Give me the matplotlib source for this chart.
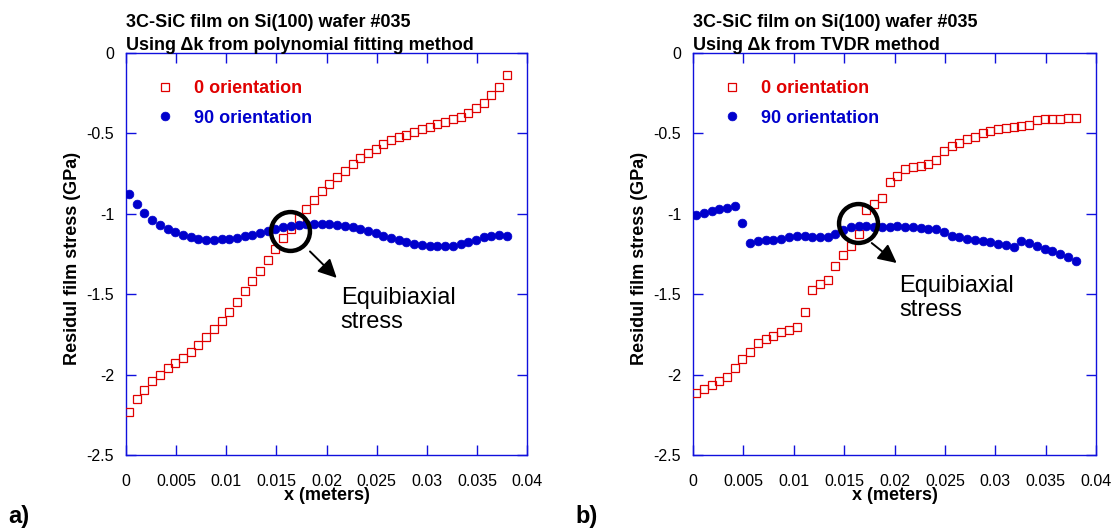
import matplotlib
matplotlib.use("Agg")
import matplotlib.pyplot as plt

plt.rcParams['font.family'] = ['Liberation Sans', 'DejaVu Sans']
plt.rcParams['axes.unicode_minus'] = False

# ---------------- data ----------------
x_m = [0.0003, 0.00107, 0.00184, 0.00261, 0.00338, 0.00415, 0.00491, 0.00568, 0.00645, 0.00722,
       0.00799, 0.00876, 0.00953, 0.0103, 0.01107, 0.01184, 0.0126, 0.01337, 0.01414, 0.01491,
       0.01568, 0.01645, 0.01722, 0.01799, 0.01876, 0.01953, 0.02029, 0.02106, 0.02183, 0.0226,
       0.02337, 0.02414, 0.02491, 0.02568, 0.02645, 0.02722, 0.02798, 0.02875, 0.02952, 0.03029,
       0.03106, 0.03183, 0.0326, 0.03337, 0.03414, 0.03491, 0.03567, 0.03644, 0.03721, 0.03798]

poly_0deg = [-2.234, -2.151, -2.093, -2.041, -2.000, -1.959, -1.928, -1.897, -1.861, -1.814,
             -1.768, -1.716, -1.665, -1.611, -1.549, -1.482, -1.416, -1.354, -1.286, -1.219,
             -1.151, -1.095, -1.027, -0.971, -0.913, -0.861, -0.816, -0.772, -0.733, -0.689,
             -0.654, -0.623, -0.594, -0.568, -0.542, -0.522, -0.507, -0.492, -0.474, -0.458,
             -0.441, -0.427, -0.412, -0.396, -0.371, -0.344, -0.309, -0.261, -0.209, -0.137]

poly_90deg = [-0.876, -0.938, -0.992, -1.037, -1.068, -1.095, -1.116, -1.130, -1.145, -1.157,
              -1.161, -1.161, -1.157, -1.155, -1.149, -1.141, -1.130, -1.120, -1.106, -1.093,
              -1.083, -1.075, -1.068, -1.064, -1.064, -1.062, -1.064, -1.068, -1.075, -1.083,
              -1.093, -1.106, -1.120, -1.135, -1.151, -1.166, -1.178, -1.188, -1.197, -1.203,
              -1.203, -1.203, -1.199, -1.188, -1.176, -1.161, -1.147, -1.137, -1.130, -1.137]

tvdr_0deg = [-2.114, -2.087, -2.066, -2.041, -2.017, -1.959, -1.903, -1.861, -1.803, -1.778,
             -1.758, -1.737, -1.720, -1.704, -1.611, -1.476, -1.437, -1.410, -1.327, -1.259,
             -1.199, -1.126, -0.979, -0.940, -0.899, -0.805, -0.768, -0.720, -0.706, -0.700,
             -0.692, -0.665, -0.609, -0.578, -0.557, -0.536, -0.520, -0.495, -0.482, -0.474,
             -0.468, -0.458, -0.453, -0.447, -0.416, -0.412, -0.408, -0.408, -0.404, -0.404]

tvdr_90deg = [-1.006, -0.992, -0.981, -0.971, -0.961, -0.950, -1.058, -1.182, -1.172, -1.166,
              -1.161, -1.155, -1.147, -1.137, -1.141, -1.145, -1.147, -1.147, -1.126, -1.099,
              -1.079, -1.073, -1.073, -1.079, -1.083, -1.079, -1.075, -1.079, -1.085, -1.089,
              -1.093, -1.095, -1.114, -1.137, -1.147, -1.155, -1.161, -1.168, -1.176, -1.188,
              -1.197, -1.209, -1.172, -1.182, -1.203, -1.217, -1.234, -1.251, -1.269, -1.292]

x_ticks = [0, 0.005, 0.01, 0.015, 0.02, 0.025, 0.03, 0.035, 0.04]
x_tick_labels = ["0", "0.005", "0.01", "0.015", "0.02", "0.025", "0.03", "0.035", "0.04"]
y_ticks = [0, -0.5, -1, -1.5, -2, -2.5]
y_tick_labels = ["0", "-0.5", "-1", "-1.5", "-2", "-2.5"]

titles = [("3C-SiC film on Si(100) wafer #035", "Using \u0394k from polynomial fitting method"),
          ("3C-SiC film on Si(100) wafer #035", "Using \u0394k from TVDR method")]
series_labels = ["0 orientation", "90 orientation"]
panel_labels = ["a)", "b)"]

# annotation anchors (circle centre, arrow start, arrow tip, text position) per panel
circle_xy = [(0.01636, -1.11), (0.0164, -1.058)]
arrow_from = [(0.01835, -1.234), (0.01774, -1.182)]
arrow_to = [(0.02102, -1.399), (0.02022, -1.306)]
text_xy = [(0.02142, -1.455), (0.02045, -1.379)]

RED = '#e00000'
BLUE = '#0000cc'
SPINE = '#1010dd'

W, H = 1115, 529
fig = plt.figure(figsize=(W / 100, H / 100), dpi=100)
axes_px = [(126, 53, 401, 402), (693, 53, 403, 402)]

datasets = [(poly_0deg, poly_90deg), (tvdr_0deg, tvdr_90deg)]

for i, (l, t, w, h) in enumerate(axes_px):
    ax = fig.add_axes([l / W, 1 - (t + h) / H, w / W, h / H])
    y0, y90 = datasets[i]
    ax.plot(x_m, y0, linestyle='none', marker='s', ms=6.2, mfc='none', mec=RED, mew=0.9,
            label=series_labels[0], zorder=3)
    ax.plot(x_m, y90, linestyle='none', marker='o', ms=6.3, mfc=BLUE, mec=BLUE, mew=0.5,
            label=series_labels[1], zorder=3)
    ax.set_xlim(0, 0.04)
    ax.set_ylim(-2.5, 0)
    ax.set_xticks(x_ticks)
    ax.set_xticklabels(x_tick_labels)
    ax.set_yticks(y_ticks)
    ax.set_yticklabels(y_tick_labels)
    for s in ax.spines.values():
        s.set_color(SPINE)
        s.set_linewidth(1.0)
    ax.tick_params(axis='both', direction='in', length=7, width=1.0, color=SPINE,
                   top=True, right=True, labelsize=11.5, labelcolor='black')
    ax.tick_params(axis='x', pad=14)
    ax.tick_params(axis='y', pad=8.5)
    ax.set_xlabel("x (meters)", fontsize=13, fontweight='bold', labelpad=-1.5)
    ax.set_ylabel("Residul film stress (GPa)", fontsize=13, fontweight='bold')
    ax.yaxis.set_label_coords(-0.112, 0.49)

    # titles
    ax.annotate(titles[i][0], xy=(0, 1), xycoords='axes fraction', xytext=(0, 18.5),
                textcoords='offset points', fontsize=13, fontweight='bold', va='baseline', ha='left')
    ax.annotate(titles[i][1], xy=(0, 1), xycoords='axes fraction', xytext=(0, 1.8),
                textcoords='offset points', fontsize=13, fontweight='bold', va='baseline', ha='left')

    leg = ax.legend(loc='upper left', bbox_to_anchor=(30 / w, 0.932), frameon=False,
                    borderpad=0, borderaxespad=0, handlelength=1.0, handletextpad=1.1,
                    labelspacing=0.68, prop={'size': 13, 'weight': 'bold'})
    for txt, c in zip(leg.get_texts(), [RED, BLUE]):
        txt.set_color(c)

    # equibiaxial annotation
    ax.plot([circle_xy[i][0]], [circle_xy[i][1]], marker='o', ms=28, mfc='none', mec='black',
            mew=3.2, linestyle='none', zorder=5)
    ax.annotate('', xy=arrow_to[i], xytext=arrow_from[i],
                arrowprops=dict(arrowstyle='-|>,head_length=0.8,head_width=0.4', color='black',
                                lw=1.4, shrinkA=0, shrinkB=0, mutation_scale=14), zorder=5)
    ax.text(text_xy[i][0], text_xy[i][1], "Equibiaxial\nstress", fontsize=17, va='top',
            ha='left', color='black', linespacing=1.12)

    fig.text((l - 118) / W, 1 - 516 / H, panel_labels[i], fontsize=17, fontweight='bold',
             va='center', ha='left')

fig.savefig("out.png", dpi=100)
